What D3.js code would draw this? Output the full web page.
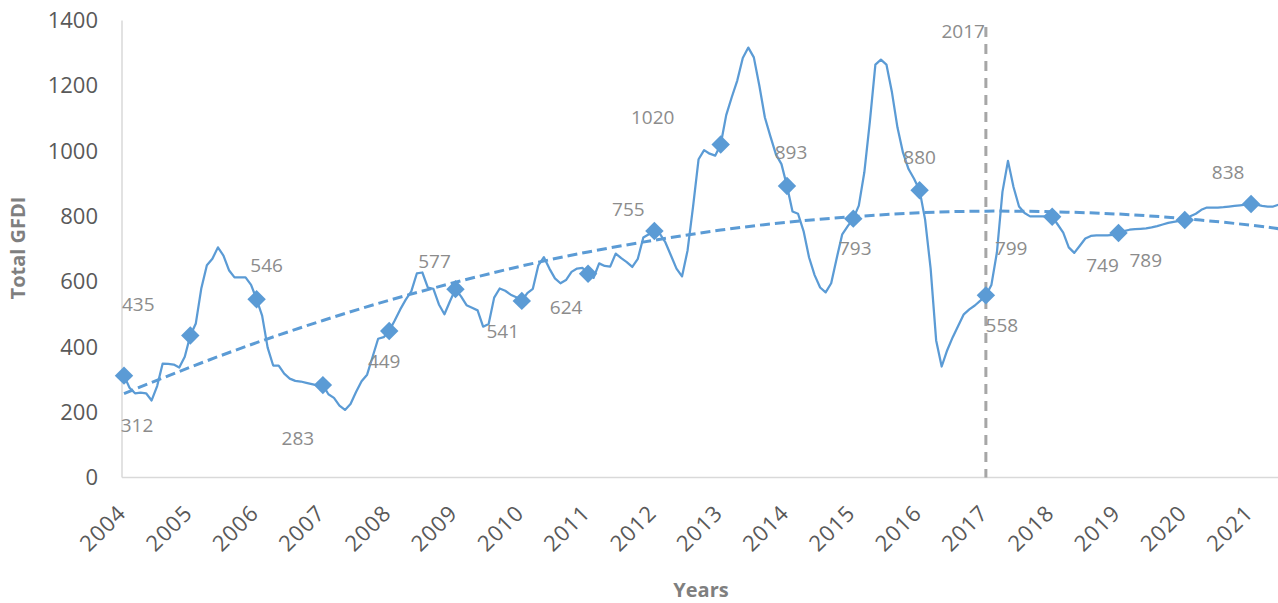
<!DOCTYPE html>
<html>
<head>
<meta charset="utf-8">
<title>Total GFDI</title>
<script src="https://cdn.jsdelivr.net/npm/d3@7"></script>
<style>
  body { margin: 0; background: #fff; }
  svg { display: block; font-family: "Open Sans", "Liberation Sans", sans-serif; }
  .tick-label { fill: #595959; font-size: 22px; }
  .x-label { letter-spacing: 1px; }
  .data-label { fill: #8c8c8c; font-size: 19px; }
  .axis-title { fill: #7f7f7f; font-size: 20px; font-weight: bold; }
</style>
</head>
<body>
<div id="chart"></div>
<script>
// yearly categories shown on the x axis
var years = [2004, 2005, 2006, 2007, 2008, 2009, 2010, 2011, 2012,
             2013, 2014, 2015, 2016, 2017, 2018, 2019, 2020, 2021];

// January values, shown as diamonds with labels
var annualValues = [312, 435, 546, 283, 449, 577, 541, 624, 755,
                    1020, 893, 793, 880, 558, 799, 749, 789, 838];

// monthly series, Jan 2004 .. Jun 2021
var monthlyValues = [
  312, 275, 258, 260, 258, 236, 280, 349, 348, 346, 337, 370,
  435, 472, 580, 650, 670, 705, 680, 635, 613, 613, 613, 590,
  546, 496, 398, 343, 343, 318, 303, 296, 294, 290, 286, 282,
  283, 255, 244, 220, 207, 225, 262, 295, 315, 370, 425, 430,
  449, 481, 515, 545, 570, 625, 628, 582, 578, 530, 500, 540,
  577, 555, 528, 520, 512, 462, 470, 551, 579, 572, 560, 552,
  541, 565, 578, 650, 675, 640, 610, 595, 605, 630, 640, 642,
  624, 612, 656, 648, 646, 686, 672, 660, 645, 670, 735, 745,
  755, 746, 720, 680, 640, 616, 695, 830, 975, 1003, 992, 986,
  1020, 1110, 1165, 1216, 1285, 1317, 1287, 1200, 1103, 1045, 990, 960,
  893, 815, 808, 755, 674, 620, 582, 567, 595, 672, 745, 770,
  793, 833, 935, 1090, 1265, 1280, 1265, 1180, 1072, 995, 945, 915,
  880, 790, 640, 420, 340, 390, 430, 465, 500, 515, 527, 542,
  558, 590, 690, 875, 970, 890, 830, 810, 800, 800, 800, 800,
  799, 775, 750, 705, 688, 710, 732, 740, 742, 742, 742, 743,
  749, 755, 759, 761, 762, 763, 766, 770, 775, 780, 783, 786,
  789, 800, 808, 820, 827, 827, 827, 828, 830, 832, 834, 836,
  838, 836, 832, 830, 830, 836
];

// trend line read at each year, plus the right end
var trendYears = [2004, 2005, 2006, 2007, 2008, 2009, 2010, 2011, 2012,
                  2013, 2014, 2015, 2016, 2017, 2018, 2019, 2020, 2021, 2021.42];
var trendValues = [257, 338, 413, 481, 543, 598, 648, 691, 727,
                   758, 782, 799, 811, 816, 814, 807, 793, 773, 762];

var yTicks = [0, 200, 400, 600, 800, 1000, 1200, 1400];
var markerYear = 2017;

// label offsets from each diamond (layout only)
var labelOffsets = [[13, 50], [-52, -31], [10, -34], [-25, 53], [-5, 30], [-21, -28],
                    [-19, 30], [-22, 34], [-26, -22], [-68, -27], [4, -34], [2, 30],
                    [0, -33], [16, 30], [-41, 32], [-16, 32], [-39, 40], [-23, -32]];

var width = 1278, height = 603;
var blue = '#5b9bd5';

var svg = d3.select('#chart').append('svg')
    .attr('width', width)
    .attr('height', height);

var x = d3.scaleLinear()
    .domain([2004, 2021 + 5 / 12])
    .range([124, 1278.7]);

var y = d3.scaleLinear()
    .domain([0, 1400])
    .range([477.5, 20.5]);

// axis lines
svg.append('line')
    .attr('x1', 122).attr('x2', 122)
    .attr('y1', y(1400)).attr('y2', y(0))
    .attr('stroke', '#d9d9d9').attr('stroke-width', 1.5);
svg.append('line')
    .attr('x1', 122).attr('x2', width)
    .attr('y1', y(0)).attr('y2', y(0))
    .attr('stroke', '#d9d9d9').attr('stroke-width', 1.5);

// y tick labels
svg.selectAll('.ytick')
    .data(yTicks)
    .enter().append('text')
    .attr('class', 'tick-label')
    .attr('x', 98)
    .attr('y', function(d) { return y(d); })
    .attr('dy', '0.35em')
    .attr('text-anchor', 'end')
    .text(function(d) { return d; });

// x tick labels, rotated
svg.selectAll('.xtick')
    .data(years)
    .enter().append('text')
    .attr('class', 'tick-label x-label')
    .attr('text-anchor', 'end')
    .attr('dy', '0.35em')
    .attr('transform', function(d) {
        return 'translate(' + (x(d) - 2) + ',' + 509 + ') rotate(-45)';
    })
    .text(function(d) { return d; });

// axis titles
svg.append('text')
    .attr('class', 'axis-title')
    .attr('x', 701)
    .attr('y', 597)
    .attr('text-anchor', 'middle')
    .text('Years');

svg.append('text')
    .attr('class', 'axis-title')
    .attr('transform', 'translate(25,248) rotate(-90)')
    .attr('text-anchor', 'middle')
    .text('Total GFDI');

// vertical marker at 2017
svg.append('line')
    .attr('x1', x(markerYear)).attr('x2', x(markerYear))
    .attr('y1', 27).attr('y2', y(0))
    .attr('stroke', '#a6a6a6')
    .attr('stroke-width', 3)
    .attr('stroke-dasharray', '10,7');

svg.append('text')
    .attr('class', 'data-label')
    .attr('x', x(markerYear) - 1)
    .attr('y', 38)
    .attr('text-anchor', 'end')
    .text(markerYear);

// monthly line
var line = d3.line()
    .x(function(d, i) { return x(2004 + i / 12); })
    .y(function(d) { return y(d); });

svg.append('path')
    .datum(monthlyValues)
    .attr('d', line)
    .attr('fill', 'none')
    .attr('stroke', blue)
    .attr('stroke-width', 2.25)
    .attr('stroke-linejoin', 'round');

// trend line
var trendLine = d3.line()
    .x(function(d) { return x(d[0]); })
    .y(function(d) { return y(d[1]); })
    .curve(d3.curveNatural);

svg.append('path')
    .datum(d3.zip(trendYears, trendValues))
    .attr('d', trendLine)
    .attr('fill', 'none')
    .attr('stroke', blue)
    .attr('stroke-width', 3)
    .attr('stroke-dasharray', '10,5');

// diamonds
var diamond = d3.symbol().type(d3.symbolSquare).size(170);

svg.selectAll('.marker')
    .data(annualValues)
    .enter().append('path')
    .attr('d', diamond)
    .attr('fill', blue)
    .attr('transform', function(d, i) {
        return 'translate(' + x(years[i]) + ',' + y(d) + ') rotate(45)';
    });

// data labels
svg.selectAll('.dlabel')
    .data(annualValues)
    .enter().append('text')
    .attr('class', 'data-label')
    .attr('text-anchor', 'middle')
    .attr('dy', '0.35em')
    .attr('x', function(d, i) { return x(years[i]) + labelOffsets[i][0]; })
    .attr('y', function(d, i) { return y(d) + labelOffsets[i][1]; })
    .text(function(d) { return d; });
</script>
</body>
</html>
